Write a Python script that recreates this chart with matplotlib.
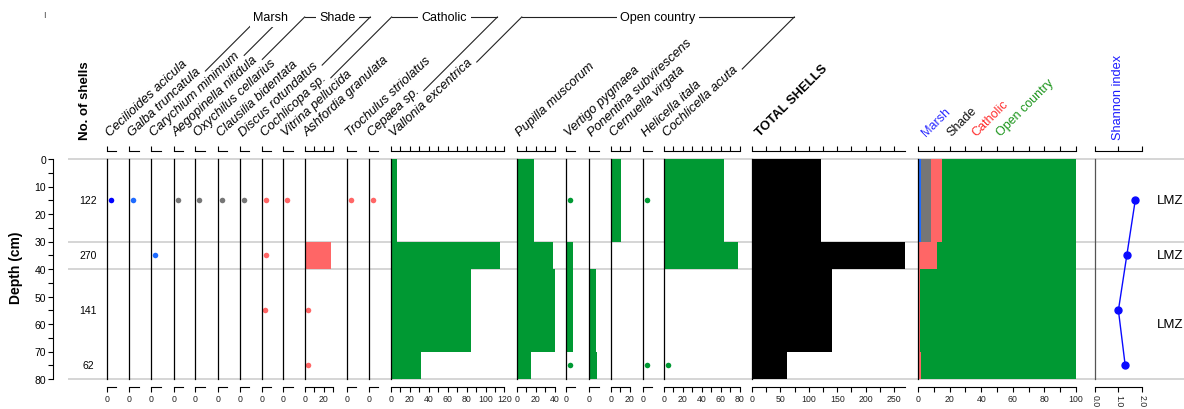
import matplotlib.pyplot as plt
from matplotlib.lines import Line2D
from matplotlib.ticker import MultipleLocator, FixedLocator, NullLocator, FormatStrFormatter
from matplotlib.transforms import ScaledTranslation

plt.rcParams['font.family'] = ['Liberation Sans', 'DejaVu Sans']

W, H = 1184, 410
TOP, BOTTOM = 160, 380  # pixel rows of 0 cm and 80 cm

# samples (cm) and zones
sample_edges = [0, 30, 40, 70, 80]
zone_edges = [0, 30, 40, 80]
zone_names = ['LMZ', 'LMZ', 'LMZ']

species = ['Cecilioides acicula', 'Galba truncatula', 'Carychium minimum',
           'Aegopinella nitidula', 'Oxychilus cellarius', 'Clausilia bidentata',
           'Discus rotundatus', 'Cochlicopa sp.', 'Vitrina pellucida',
           'Ashfordia granulata', 'Trochulus striolatus', 'Cepaea sp.',
           'Vallonia excentrica', 'Pupilla muscorum', 'Vertigo pygmaea',
           'Ponentina subvirescens', 'Cernuella virgata', 'Helicella itala',
           'Cochlicella acuta']
species_group = [None, 'Marsh', 'Marsh',
                 'Shade', 'Shade', 'Shade', 'Shade',
                 'Catholic', 'Catholic', 'Catholic', 'Catholic', 'Catholic',
                 'Open country', 'Open country', 'Open country',
                 'Open country', 'Open country', 'Open country', 'Open country']

# shell counts per sample (0-30, 30-40, 40-70, 70-80 cm)
counts = [
    [2, 0, 0, 0],
    [2, 0, 0, 0],
    [0, 2, 0, 0],
    [2, 0, 0, 0],
    [2, 0, 0, 0],
    [2, 0, 0, 0],
    [2, 0, 0, 0],
    [2, 2, 1, 0],
    [2, 0, 0, 0],
    [0, 28, 1, 1],
    [2, 0, 0, 0],
    [2, 0, 0, 0],
    [6, 115, 85, 32],
    [18, 38, 40, 15],
    [2, 7, 7, 2],
    [0, 0, 7, 8],
    [11, 0, 0, 0],
    [2, 0, 0, 2],
    [63, 78, 0, 2],
]
shannon = [1.72, 1.36, 1.00, 1.29]

group_names = ['Marsh', 'Shade', 'Catholic', 'Open country']
group_colors = {'Marsh': '#1f6bff', 'Shade': '#767676',
                'Catholic': '#ff6666', 'Open country': '#009933'}
header_colors = {'Marsh': '#2b2bff', 'Shade': '#111111',
                 'Catholic': '#ff2b2b', 'Open country': '#1a941a'}
other_color = '#0000ff'

panel_left = [107, 129.3, 151.3, 173.7, 195.3, 217.7, 239.7, 262, 283.3, 305,
              346.7, 368.7, 391, 516.7, 566, 589.3, 611, 643, 664]
COUNT_PX = 0.945
TOTAL_LEFT, TOTAL_PX = 752, 0.568
PCT_LEFT, PCT_PX = 918, 1.58
SH_LEFT, SH_PX = 1095, 23.4
RARE = 2  # counts at or below this are drawn as dots

mids = [(a + b) / 2 for a, b in zip(sample_edges[:-1], sample_edges[1:])]
thick = [b - a for a, b in zip(sample_edges[:-1], sample_edges[1:])]
totals = [sum(c[k] for c in counts) for k in range(len(mids))]


def fig_rect(left, width):
    return [left / W, 1 - BOTTOM / H, width / W, (BOTTOM - TOP) / H]


def style_panel(ax, xmax, major, minor):
    ax.set_xlim(0, xmax)
    ax.set_ylim(80, 0)
    ax.set_facecolor('none')
    ax.spines['right'].set_visible(False)
    for side in ('top', 'bottom'):
        ax.spines[side].set_position(('outward', 5.8))
        ax.spines[side].set_linewidth(0.8)
    ax.spines['left'].set_linewidth(0.9)
    ax.set_yticks([])
    ax.xaxis.set_major_locator(major)
    ax.xaxis.set_minor_locator(minor)
    ax.tick_params(axis='x', which='both', top=True, bottom=True,
                   labeltop=False, direction='out', length=3.6, width=0.8,
                   labelsize=6.3, pad=1.5, labelcolor='#222222')


fig = plt.figure(figsize=(W / 100, H / 100), dpi=100)

# background: zone boundaries, shell numbers, zone names
bg = fig.add_axes([0, 1 - BOTTOM / H, 1, (BOTTOM - TOP) / H])
bg.set_xlim(0, W)
bg.set_ylim(80, 0)
bg.axis('off')
bg.hlines(zone_edges, 68, W, color='#d2d2d2', lw=1.3, clip_on=False)
for m, t in zip(mids, totals):
    bg.text(88, m, str(t), ha='center', va='center', fontsize=7.5)
for a, b, name in zip(zone_edges[:-1], zone_edges[1:], zone_names):
    bg.text(1170, (a + b) / 2, name, ha='center', va='center', fontsize=9.5)

# depth axis
axd = fig.add_axes([53 / W, 1 - BOTTOM / H, 0.0001, (BOTTOM - TOP) / H])
axd.set_ylim(80, 0)
axd.set_facecolor('none')
for side in ('top', 'right', 'bottom'):
    axd.spines[side].set_visible(False)
axd.set_xticks([])
axd.yaxis.set_major_locator(MultipleLocator(10))
axd.yaxis.set_minor_locator(MultipleLocator(5))
axd.tick_params(axis='y', which='both', length=3.6, width=0.8,
                labelsize=7.5, pad=1.5)
fig.text(16 / W, 1 - 268 / H, 'Depth (cm)', rotation=90, ha='center',
         va='center', fontsize=10, fontweight='bold')
fig.text(85 / W, 1 - 140 / H, 'No. of shells', rotation=90, ha='center',
         va='bottom', fontsize=9.5, fontweight='bold')
fig.text(44 / W, 1 - 15 / H, 'I', fontsize=6.5, color='#444444',
         ha='center', va='center')

# one panel per species
labels = []
for i, name in enumerate(species):
    vals = counts[i]
    xmax = max(10, -(-max(vals) // 10) * 10)
    ax = fig.add_axes(fig_rect(panel_left[i], xmax * COUNT_PX))
    if xmax <= 10:
        style_panel(ax, xmax, FixedLocator([0]), NullLocator())
    else:
        style_panel(ax, xmax, MultipleLocator(20), MultipleLocator(10))
    g = species_group[i]
    color = group_colors[g] if g else other_color
    shift = ax.transData + ScaledTranslation(2 / 100, 0, fig.dpi_scale_trans)
    for v, m, t in zip(vals, mids, thick):
        if v == 0:
            continue
        if v <= RARE:
            ax.plot(v, m, 'o', color=color, ms=4, mew=0, transform=shift,
                    clip_on=False)
        else:
            ax.barh(m, v, height=t, color=color, linewidth=0)
    labels.append(fig.text((panel_left[i] + 3) / W, 1 - 137 / H, name,
                           rotation=43, rotation_mode='anchor', ha='left',
                           va='baseline', fontsize=9.3, style='italic'))

# total shells
axt = fig.add_axes(fig_rect(TOTAL_LEFT, max(totals) * TOTAL_PX))
style_panel(axt, max(totals), MultipleLocator(50), MultipleLocator(25))
axt.barh(mids, totals, height=thick, color='black', linewidth=0)
fig.text((TOTAL_LEFT + 8) / W, 1 - 137 / H, 'TOTAL SHELLS', rotation=45,
         rotation_mode='anchor', ha='left', va='baseline', fontsize=9.3,
         fontweight='bold')

# ecological groups as percentages
axp = fig.add_axes(fig_rect(PCT_LEFT, 100 * PCT_PX))
style_panel(axp, 100, MultipleLocator(20), MultipleLocator(10))
group_sums = {g: [sum(c[k] for c, s in zip(counts, species_group) if s == g)
                  for k in range(len(mids))] for g in group_names}
grouped = [sum(group_sums[g][k] for g in group_names) for k in range(len(mids))]
left = [0] * len(mids)
for g in group_names:
    pct = [100 * v / n for v, n in zip(group_sums[g], grouped)]
    axp.barh(mids, pct, left=left, height=thick, color=group_colors[g],
             linewidth=0)
    left = [a + b for a, b in zip(left, pct)]
for j, g in enumerate(group_names):
    fig.text((PCT_LEFT + 8 + 25 * j) / W, 1 - 137 / H, g, rotation=45,
             rotation_mode='anchor', ha='left', va='baseline', fontsize=9,
             color=header_colors[g])

# Shannon diversity
axs = fig.add_axes(fig_rect(SH_LEFT, 2 * SH_PX))
style_panel(axs, 2, FixedLocator([0, 1, 2]), NullLocator())
axs.xaxis.set_major_formatter(FormatStrFormatter('%.1f'))
axs.tick_params(axis='x', labelrotation=-90)
axs.spines['left'].set_color('#555555')
axs.plot(shannon, mids, '-o', color='#0a0aff', lw=1, ms=5, clip_on=False)
fig.text((SH_LEFT + SH_PX) / W, 1 - 140 / H, 'Shannon index', rotation=90,
         ha='center', va='bottom', fontsize=9.2, color='#1a1aff')

# group brackets above the species names
fig.canvas.draw()
renderer = fig.canvas.get_renderer()
head_y = H - 18
for g in group_names:
    idx = [i for i, s in enumerate(species_group) if s == g]
    tops = []
    for i in (idx[0], idx[-1]):
        bb = labels[i].get_window_extent(renderer)
        x0, y0 = bb.x1 + 2, bb.y1 - 6
        x1 = x0 + (head_y - y0)
        fig.add_artist(Line2D([x0 / W, x1 / W], [y0 / H, head_y / H],
                              transform=fig.transFigure, color='#222222',
                              lw=0.8))
        tops.append(x1)
    fig.add_artist(Line2D([tops[0] / W, tops[1] / W], [head_y / H] * 2,
                          transform=fig.transFigure, color='#222222', lw=0.8))
    fig.text((tops[0] + tops[1]) / 2 / W, head_y / H, g, ha='center',
             va='center', fontsize=9, zorder=5,
             bbox=dict(facecolor='white', edgecolor='none', pad=2.5))

fig.savefig('out.png', dpi=100)
